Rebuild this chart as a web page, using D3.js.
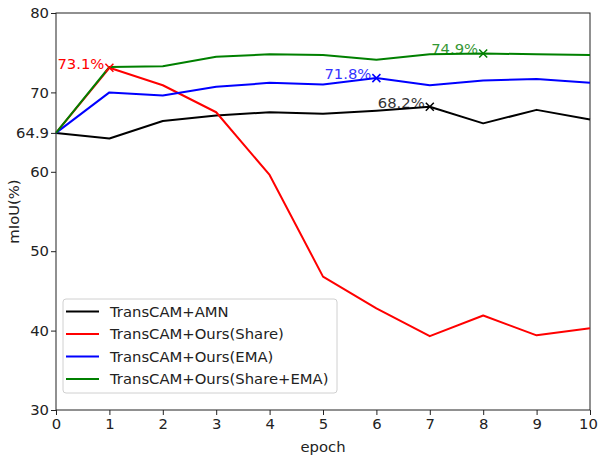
<!DOCTYPE html>
<html lang="en">
<head>
<meta charset="utf-8">
<title>mIoU per epoch</title>
<script src="https://cdnjs.cloudflare.com/ajax/libs/d3/7.8.5/d3.min.js"></script>
<style>
  body { margin: 0; background: #fff; }
  svg text { font-family: "DejaVu Sans", sans-serif; }
</style>
</head>
<body>
<div id="plot"></div>
<script>
// data
var epochs = [0, 1, 2, 3, 4, 5, 6, 7, 8, 9, 10];
var amn      = [64.9, 64.2, 66.4, 67.1, 67.5, 67.3, 67.7, 68.2, 66.1, 67.8, 66.6];
var share    = [64.9, 73.1, 70.9, 67.5, 59.6, 46.8, 42.8, 39.3, 41.9, 39.4, 40.3];
var ema      = [64.9, 70.0, 69.6, 70.7, 71.2, 71.0, 71.8, 70.9, 71.5, 71.7, 71.2];
var shareEma = [64.9, 73.2, 73.3, 74.5, 74.8, 74.7, 74.1, 74.8, 74.9, 74.8, 74.7];
var seriesNames = ["TransCAM+AMN", "TransCAM+Ours(Share)", "TransCAM+Ours(EMA)", "TransCAM+Ours(Share+EMA)"];
var seriesColors = ["#000000", "#ff0000", "#0000ff", "#008000"];
var yTicks = [30, 40, 50, 60, 64.9, 70, 80];
var xTicks = [0, 1, 2, 3, 4, 5, 6, 7, 8, 9, 10];
// best point of each series: [series index, epoch, label]
var peaks = [[1, 1, "73.1%"], [0, 7, "68.2%"], [2, 6, "71.8%"], [3, 8, "74.9%"]];

var width = 598, height = 457;
var margin = {left: 56, right: 8, top: 13, bottom: 47};
var fs = 14.8;

var allSeries = [amn, share, ema, shareEma];

var svg = d3.select("#plot").append("svg")
    .attr("width", width)
    .attr("height", height);

var x = d3.scaleLinear().domain([0, 10]).range([margin.left, width - margin.right]);
var y = d3.scaleLinear().domain([30, 80]).range([height - margin.bottom, margin.top]);

// axes
var xAxis = svg.append("g")
    .attr("transform", "translate(0," + (height - margin.bottom) + ")")
    .call(d3.axisBottom(x).tickValues(xTicks).tickFormat(d3.format("d")).tickSize(5).tickPadding(3));
var yAxis = svg.append("g")
    .attr("transform", "translate(" + margin.left + ",0)")
    .call(d3.axisLeft(y).tickValues(yTicks).tickFormat(function(d){ return d % 1 ? d.toFixed(1) : d; }).tickSize(5).tickPadding(2));
[xAxis, yAxis].forEach(function(g) {
  g.selectAll("text").attr("font-size", fs).attr("fill", "#222").attr("font-family", "DejaVu Sans");
  g.selectAll("line").attr("stroke", "#222").attr("stroke-width", 1);
  g.select(".domain").remove();
});
// keep the last x label inside the window
xAxis.selectAll(".tick text").filter(function(d){ return d === 10; }).attr("dx", -2);

// frame
svg.append("rect")
    .attr("x", margin.left).attr("y", margin.top)
    .attr("width", width - margin.left - margin.right)
    .attr("height", height - margin.top - margin.bottom)
    .attr("fill", "none").attr("stroke", "#222").attr("stroke-width", 1);

// lines
var line = d3.line().x(function(d, i){ return x(epochs[i]); }).y(function(d){ return y(d); });
allSeries.forEach(function(s, k) {
  svg.append("path")
      .datum(s)
      .attr("d", line)
      .attr("fill", "none")
      .attr("stroke", seriesColors[k])
      .attr("stroke-width", 2)
      .attr("stroke-linejoin", "round");
});

// x markers + labels at peaks
peaks.forEach(function(p) {
  var cx = x(p[1]), cy = y(allSeries[p[0]][p[1]]), r = 4, c = seriesColors[p[0]];
  svg.append("path")
      .attr("d", "M" + (cx - r) + "," + (cy - r) + "L" + (cx + r) + "," + (cy + r) +
                 "M" + (cx - r) + "," + (cy + r) + "L" + (cx + r) + "," + (cy - r))
      .attr("stroke", c).attr("stroke-width", 1.5).attr("fill", "none");
  svg.append("text")
      .attr("x", cx - 5).attr("y", cy + 1)
      .attr("text-anchor", "end")
      .attr("font-size", fs)
      .attr("fill", c)
      .attr("opacity", p[0] === 1 ? 1 : 0.8)
      .text(p[2]);
});

// axis labels
svg.append("text")
    .attr("x", x(5)).attr("y", 452)
    .attr("text-anchor", "middle").attr("font-size", fs).attr("fill", "#222")
    .text("epoch");
svg.append("text")
    .attr("transform", "translate(19," + ((margin.top + height - margin.bottom) / 2) + ") rotate(-90)")
    .attr("text-anchor", "middle").attr("font-size", fs).attr("fill", "#222")
    .text("mIoU(%)");

// legend
var lg = svg.append("g").attr("transform", "translate(63,299)");
lg.append("rect")
    .attr("width", 274).attr("height", 94).attr("rx", 3)
    .attr("fill", "#fff").attr("fill-opacity", 0.8)
    .attr("stroke", "#d0d0d0").attr("stroke-width", 1);
seriesNames.forEach(function(name, k) {
  var ly = 12.5 + k * 22.5;
  lg.append("line")
      .attr("x1", 3).attr("x2", 36).attr("y1", ly).attr("y2", ly)
      .attr("stroke", seriesColors[k]).attr("stroke-width", 2);
  lg.append("text")
      .attr("x", 47).attr("y", ly + 5)
      .attr("font-size", fs).attr("fill", "#222")
      .text(name);
});
</script>
</body>
</html>
